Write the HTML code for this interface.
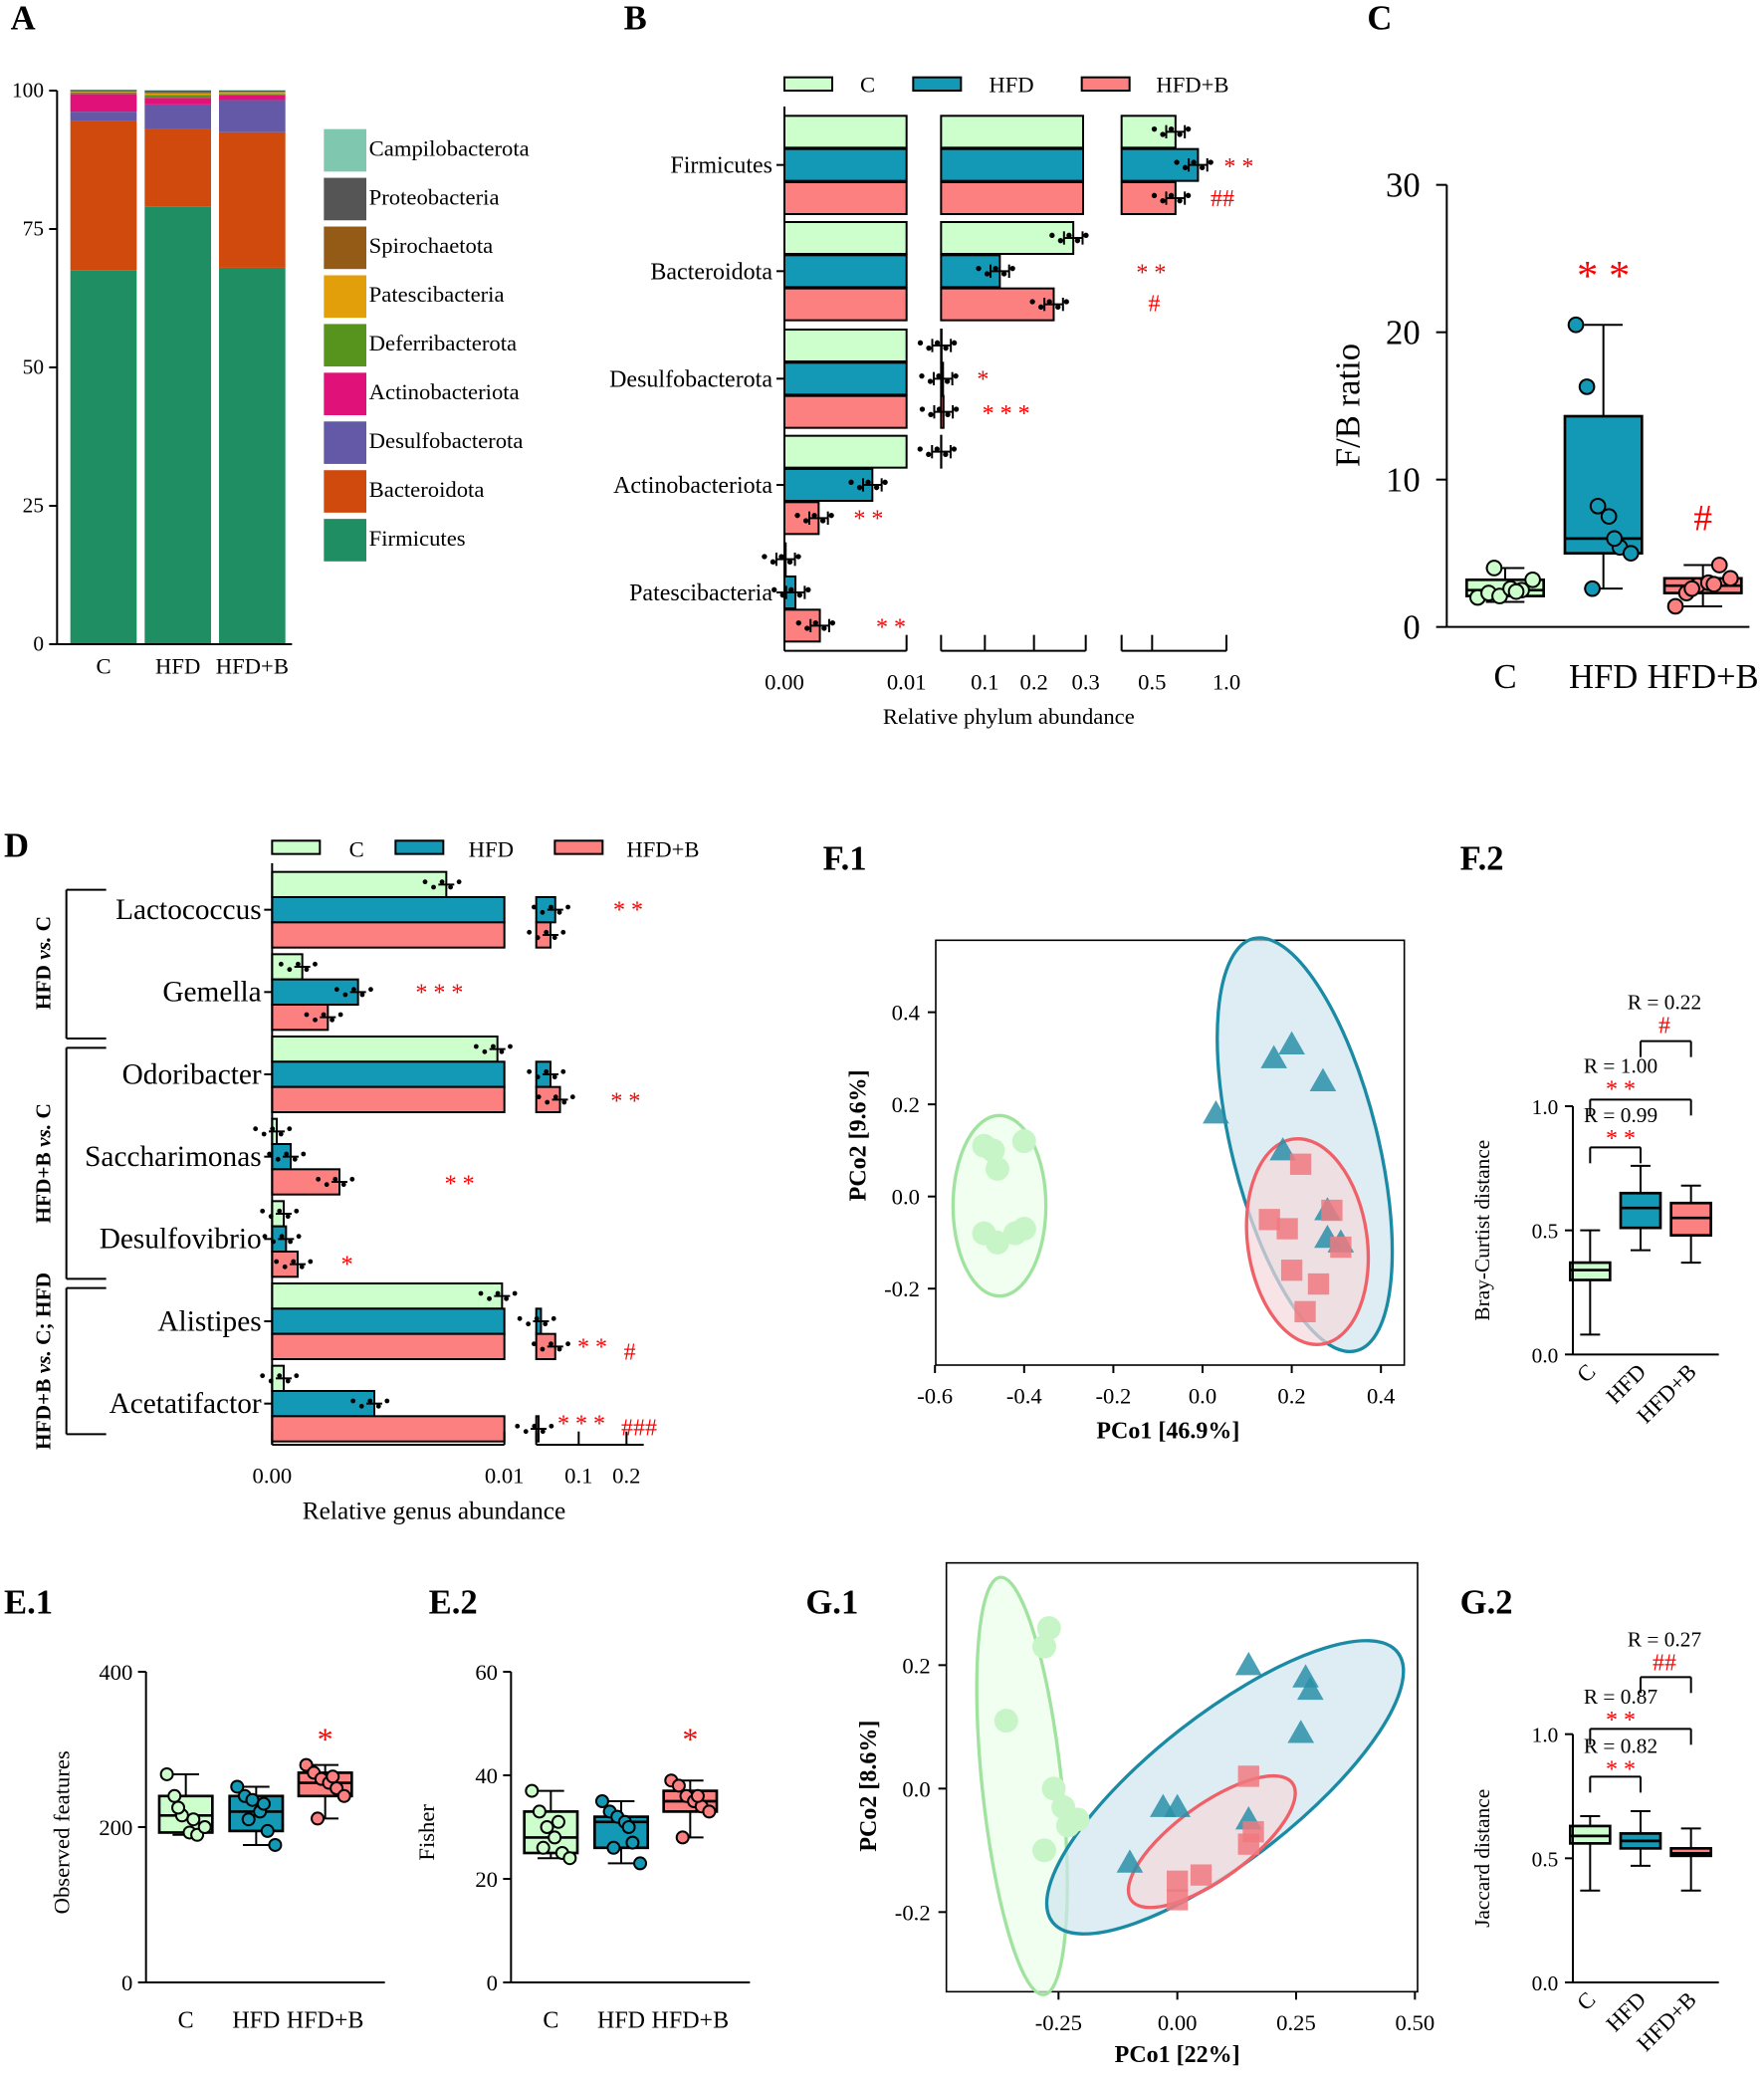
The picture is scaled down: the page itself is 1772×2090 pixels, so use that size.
<!DOCTYPE html>
<html><head><meta charset="utf-8"><style>
html,body{margin:0;padding:0;background:#fff}
svg{display:block;font-family:"Liberation Serif",serif}
</style></head><body>
<svg id="fig" xmlns="http://www.w3.org/2000/svg" width="1772" height="2090" viewBox="0 0 1329 1567"></svg>
<script>
// ---------- DATA ----------
const groups = ['C','HFD','HFD+B'];
// Panel A (stacked %, bottom to top)
const phyla = ['Firmicutes','Bacteroidota','Desulfobacterota','Actinobacteriota','Deferribacterota','Patescibacteria','Spirochaetota','Proteobacteria','Campilobacterota'];
const firmA = [67.5, 79, 68];
const bactA = [27, 14, 24.5];
const desulA = [1.7, 4.5, 5.8];
const actinA = [3.2, 1.2, 0.8];
const deferA = [0.3, 0.5, 0.3];
const patesA = [0.1, 0.3, 0.3];
const spiroA = [0.1, 0.2, 0.1];
const proteA = [0.2, 0.3, 0.2];
const campiA = [0.1, 0.1, 0.1];
const yTicksA = [0, 25, 50, 75, 100];
// Panel B (relative phylum abundance)
const phylaB = ['Firmicutes','Bacteroidota','Desulfobacterota','Actinobacteriota','Patescibacteria'];
const bC = [0.66, 0.28, 0.011, 0.0105, 0.0001];
const bHFD = [0.81, 0.13, 0.014, 0.0072, 0.0009];
const bHFDB = [0.66, 0.24, 0.015, 0.0028, 0.0029];
// Panel C F/B ratio boxplots [min,q1,med,q3,max]
const fbStats = [[1.7,2.1,2.5,3.2,4.0],[2.6,5.0,6.0,14.3,20.5],[1.4,2.3,2.8,3.3,4.2]];
const fbPtsC = [2.0,2.3,2.1,2.6,2.5,3.2,4.0,2.4];
const fbPtsHFD = [20.5,16.3,8.2,7.5,5.4,5.0,2.6,6.0];
const fbPtsHFDB = [1.4,2.3,2.8,3.0,4.2,3.3,2.6,2.9];
const fbTicks = [0,10,20,30];
// Panel D genera
const genera = ['Lactococcus','Gemella','Odoribacter','Saccharimonas','Desulfovibrio','Alistipes','Acetatifactor'];
const dC = [0.0075, 0.0013, 0.0097, 0.0002, 0.0005, 0.0099, 0.0005];
const dHFD = [0.05, 0.0037, 0.04, 0.0008, 0.0006, 0.02, 0.0044];
const dHFDB = [0.04, 0.0024, 0.06, 0.0029, 0.0011, 0.05, 0.015];
// Panel E
const e1Stats = [[190,193,215,240,268],[177,195,220,240,252],[211,240,257,270,280]];
const e1Pts = [[268,240,215,193,190,200,225,210],[252,240,235,220,195,177,210,230],[280,270,262,257,250,240,211,265]];
const e2Stats = [[24,25,28,33,37],[23,26,31,32,35],[28,33,35,37,39]];
const e2Pts = [[37,33,30,28,25,24,26,31],[35,33,32,31,27,23,26,30],[39,38,36,35,34,33,28,36]];
// Panel F.1 PCoA
const f1C = [[-0.49,0.11],[-0.47,0.10],[-0.40,0.12],[-0.46,0.06],[-0.49,-0.08],[-0.46,-0.10],[-0.42,-0.08],[-0.40,-0.07]];
const f1HFD = [[0.20,0.33],[0.16,0.30],[0.27,0.25],[0.03,0.18],[0.18,0.10],[0.28,-0.03],[0.28,-0.09],[0.31,-0.10]];
const f1HFDB = [[0.22,0.07],[0.15,-0.05],[0.19,-0.07],[0.29,-0.03],[0.31,-0.11],[0.20,-0.16],[0.26,-0.19],[0.23,-0.25]];
const f2Stats = [[0.08,0.30,0.34,0.37,0.50],[0.42,0.51,0.59,0.65,0.76],[0.37,0.48,0.55,0.61,0.68]];
// Panel G
const g1C = [[-0.27,0.26],[-0.28,0.23],[-0.36,0.11],[-0.26,0.0],[-0.24,-0.03],[-0.21,-0.05],[-0.23,-0.06],[-0.28,-0.10]];
const g1HFD = [[0.15,0.20],[0.27,0.18],[0.28,0.16],[0.26,0.09],[-0.03,-0.03],[0.0,-0.03],[0.15,-0.05],[-0.10,-0.12]];
const g1HFDB = [[0.15,0.02],[0.16,-0.07],[0.15,-0.09],[0.05,-0.14],[0.0,-0.15],[0.0,-0.18]];
const g2Stats = [[0.37,0.56,0.59,0.63,0.67],[0.47,0.54,0.57,0.60,0.69],[0.37,0.51,0.52,0.54,0.62]];

// ---------- HELPERS ----------
const NS='http://www.w3.org/2000/svg';
const svg=document.getElementById('fig');
const COL={C:'#ccffcc',HFD:'#1399b5',HFDB:'#fd8080'};
const FILLS=[COL.C,COL.HFD,COL.HFDB];
function mk(tag,attrs,name,parent){
  const e=document.createElementNS(NS,tag);
  for(const k in attrs) e.setAttribute(k,attrs[k]);
  
  
  (parent||svg).appendChild(e);
  return e;
}
function L(x1,y1,x2,y2,name,w,c){return mk('line',{x1,y1,x2,y2,stroke:c||'#000','stroke-width':w||1.5},name);}
function T(x,y,s,size,name,opt){
  opt=opt||{};
  const a={x,y,'font-size':size,fill:opt.fill||'#000','text-anchor':opt.anchor||'start'};
  if(opt.bold)a['font-weight']='bold';
  if(opt.rot!==undefined)a.transform='rotate('+opt.rot+' '+x+' '+y+')';
  if(opt.italic)a['font-style']='italic';
  const e=mk('text',a,name);e.textContent=s;return e;
}
function R(x,y,w,h,fill,name,sw){return mk('rect',{x,y,width:Math.max(w,0),height:h,fill,stroke:'#000','stroke-width':sw||1.5},name);}
const JIT=[-10,-6,-2,2,6,10,-4,4];

// ---------- PANEL LETTERS ----------
[['A',8,22],['B',470,22],['C',1030,22],['D',3,645],['F.1',620,655],['F.2',1100,655],['E.1',3,1215],['E.2',323,1215],['G.1',607,1215],['G.2',1100,1215]]
.forEach(p=>T(p[1],p[2],p[0],26,'panel-label-'+p[0].toLowerCase().replace('.','-'),{bold:true}));

// ---------- PANEL A ----------
(function(){
  const yA=v=>485-v*4.17;
  const stacks=[firmA,bactA,desulA,actinA,deferA,patesA,spiroA,proteA,campiA];
  const cols=['#1f8f63','#d04a0e','#6459a6','#e0127a','#56941e','#e39f0a','#935b16','#555555','#7fc7ae'];
  const xs=[53,109,165];
  groups.forEach((g,i)=>{
    let acc=0;
    stacks.forEach((s,j)=>{
      mk('rect',{x:xs[i],y:yA(acc+s[i]),width:50,height:s[i]*4.17,fill:cols[j]},'stack-'+phyla[j].toLowerCase()+'-'+g.toLowerCase());
      acc+=s[i];
    });
    T(xs[i]+25,507,g,17,'a-x-label-'+g.toLowerCase(),{anchor:'middle'});
  });
  L(43,68,43,485,'a-y-axis');L(43,485,220,485,'a-x-axis');
  yTicksA.forEach(t=>{L(37,yA(t),43,yA(t),'a-y-tick');T(33,yA(t)+5,String(t),16,'a-y-tick-label',{anchor:'end'});});
  const order=[8,7,6,5,4,3,2,1,0];
  order.forEach((j,k)=>{
    const y=97+k*36.7;
    mk('rect',{x:244,y:y,width:32,height:32,fill:cols[j]},'legend-swatch-'+phyla[j].toLowerCase());
    T(278,y+20,phyla[j],17,'legend-entry-'+phyla[j].toLowerCase());
  });
})();

// ---------- PANEL B ----------
(function(){
  const xs1=v=>591+Math.min(v,0.01)/0.01*92;
  const xs2=v=>709+(Math.min(v,0.3)-0.01)/0.29*107;
  const xs3=v=>845+(v-0.3)/0.7*79;
  const centers=[124,204,285,365,446];
  const series=[bC,bHFD,bHFDB];
  phylaB.forEach((p,i)=>{
    const c=centers[i];
    series.forEach((s,k)=>{
      const y=c-37+k*25, v=s[i];
      R(591,y,xs1(v)-591,24,FILLS[k],'bar-'+p.toLowerCase()+'-'+groups[k].toLowerCase());
      if(v>0.01)R(709,y,xs2(v)-709,24,FILLS[k],'bar-'+p.toLowerCase()+'-'+groups[k].toLowerCase()+'-seg2');
      if(v>0.3)R(845,y,xs3(v)-845,24,FILLS[k],'bar-'+p.toLowerCase()+'-'+groups[k].toLowerCase()+'-seg3');
      let xe=v>0.3?xs3(v):(v>0.01?xs2(v):xs1(v));
      const cy=y+12;
      L(xe-7,cy,xe+7,cy,'error-bar');L(xe-7,cy-5,xe-7,cy+5,'error-cap');L(xe+7,cy-5,xe+7,cy+5,'error-cap');
      JIT.slice(0,5).forEach((d,q)=>mk('circle',{cx:xe+d*1.6,cy:cy+(q%2?2:-2),r:2,fill:'#000'},'data-dot'));
    });
    L(585,c,591,c,'b-y-tick');
    T(582,c+6,p,18,'b-category-'+p.toLowerCase(),{anchor:'end'});
  });
  L(591,80,591,490,'b-y-axis');
  L(591,490,683,490,'b-x-axis-seg1');L(709,490,818,490,'b-x-axis-seg2');L(845,490,924,490,'b-x-axis-seg3');
  [[591,'0.00'],[683,'0.01'],[709,''],[742,'0.1'],[779,'0.2'],[818,'0.3'],[845,''],[868,'0.5'],[924,'1.0']].forEach(t=>{
    L(t[0],478,t[0],490,'b-x-tick');if(t[1])T(t[0],519,t[1],17,'b-x-tick-label',{anchor:'middle'});
  });
  T(760,545,'Relative phylum abundance',17,'b-x-axis-title',{anchor:'middle'});
  [[591,648,'C'],[688,745,'HFD'],[815,871,'HFD+B']].forEach((l,k)=>{R(l[0],58,36,10,FILLS[k],'b-legend-swatch-'+l[2].toLowerCase());T(l[1],69,l[2],17,'b-legend-entry-'+l[2].toLowerCase());});
  [[922,131,'* *'],[912,155,'##'],[856,211,'* *'],[865,234,'#'],[736,291,'*'],[740,317,'* * *'],[643,396,'* *'],[660,478,'* *']].forEach(s=>T(s[0],s[1],s[2],18,'significance-mark',{fill:'#f00'}));
})();

// ---------- BOX PLOT HELPER ----------
function boxplot(cx,w,st,ys,fill,name,pts,pr){
  L(cx,ys(st[0]),cx,ys(st[1]),name+'-whisker');L(cx,ys(st[3]),cx,ys(st[4]),name+'-whisker');
  L(cx-w/4,ys(st[0]),cx+w/4,ys(st[0]),name+'-cap');L(cx-w/4,ys(st[4]),cx+w/4,ys(st[4]),name+'-cap');
  R(cx-w/2,ys(st[3]),w,ys(st[1])-ys(st[3]),fill,name+'-box',2);
  L(cx-w/2,ys(st[2]),cx+w/2,ys(st[2]),name+'-median',2);
  if(pts)pts.forEach((v,i)=>mk('circle',{cx:cx+JIT[i]*w/28,cy:ys(v),r:pr||5,fill:fill,stroke:'#000','stroke-width':1.5},name+'-point'));
}

// ---------- PANEL C ----------
(function(){
  const ys=v=>472-v*11.1;
  const xs=[1134,1208,1283];
  const pts=[fbPtsC,fbPtsHFD,fbPtsHFDB];
  groups.forEach((g,i)=>{boxplot(xs[i],58,fbStats[i],ys,FILLS[i],'fb-box-'+g.toLowerCase(),pts[i],5.5);
    T(xs[i],518,g,26,'c-x-label-'+g.toLowerCase(),{anchor:'middle'});});
  L(1090,139,1090,472,'c-y-axis');L(1090,472,1318,472,'c-x-axis');
  fbTicks.forEach(t=>{L(1082,ys(t),1090,ys(t),'c-y-tick');T(1070,ys(t)+9,String(t),26,'c-y-tick-label',{anchor:'end'});});
  T(1024,305,'F/B ratio',26,'c-y-axis-title',{anchor:'middle',rot:-90});
  T(1208,218,'* *',32,'significance-mark',{fill:'#f00',anchor:'middle'});
  T(1283,399,'#',28,'significance-mark',{fill:'#f00',anchor:'middle'});
})();

// ---------- PANEL D ----------
(function(){
  const xs1=v=>205+Math.min(v,0.01)/0.01*175;
  const xs2=v=>404+(v-0.01)/0.19*68;
  const series=[dC,dHFD,dHFDB];
  genera.forEach((gname,i)=>{
    const c=685+i*62;
    series.forEach((s,k)=>{
      const y=c-28.5+k*19, v=s[i];
      R(205,y,xs1(v)-205,19,FILLS[k],'bar-'+gname.toLowerCase()+'-'+groups[k].toLowerCase());
      if(v>0.01)R(404,y,xs2(v)-404,19,FILLS[k],'bar-'+gname.toLowerCase()+'-'+groups[k].toLowerCase()+'-seg2');
      const xe=v>0.01?xs2(v):xs1(v), cy=y+9.5;
      L(xe-6,cy,xe+6,cy,'error-bar');
      JIT.slice(0,5).forEach((d,q)=>mk('circle',{cx:xe+d*1.6,cy:cy+(q%2?2:-2),r:1.8,fill:'#000'},'data-dot'));
    });
    L(199,c,205,c,'d-y-tick');
    T(197,c+7,gname,22,'d-category-'+gname.toLowerCase(),{anchor:'end'});
  });
  L(205,650,205,1088,'d-y-axis');L(205,1088,380,1088,'d-x-axis-seg1');L(404,1088,485,1088,'d-x-axis-seg2');
  [[205,'0.00'],[380,'0.01'],[404,''],[436,'0.1'],[472,'0.2']].forEach(t=>{L(t[0],1078,t[0],1088,'d-x-tick');if(t[1])T(t[0],1117,t[1],17,'d-x-tick-label',{anchor:'middle'});});
  T(327,1144,'Relative genus abundance',19,'d-x-axis-title',{anchor:'middle'});
  [[205,263,'C'],[298,353,'HFD'],[418,472,'HFD+B']].forEach((l,k)=>{R(l[0],633,36,10,FILLS[k],'d-legend-swatch-'+l[2].toLowerCase());T(l[1],645,l[2],17,'d-legend-entry-'+l[2].toLowerCase());});
  [[462,691,'* *'],[313,753,'* * *'],[460,835,'* *'],[335,897,'* *'],[257,958,'*'],[435,1020,'* *'],[470,1024,'#'],[420,1078,'* * *'],[468,1081,'###']].forEach(s=>T(s[0],s[1],s[2],18,'significance-mark',{fill:'#f00'}));
  [[670,782,725,['HFD ','vs.',' C']],[789,963,876,['HFD+B ','vs.',' C']],[970,1080,1025,['HFD+B ','vs.',' C; HFD']]].forEach(b=>{
    L(80,b[0],50,b[0],'bracket');L(50,b[0],50,b[1],'bracket');L(50,b[1],80,b[1],'bracket');
    const t=T(38,b[2],'',16,'d-bracket-label',{anchor:'middle',rot:-90,bold:true});
    b[3].forEach((s,q)=>{const ts=document.createElementNS(NS,'tspan');if(q===1)ts.setAttribute('font-style','italic');ts.textContent=s;t.appendChild(ts);});
  });
})();

// ---------- PANEL E ----------
function panelE(ax,top,bot,maxv,ticks,stats,pts,ylab,pref){
  const ys=v=>bot-(v/maxv)*(bot-top);
  const xs=[ax+30,ax+83,ax+135];
  groups.forEach((g,i)=>{boxplot(xs[i],40,stats[i],ys,FILLS[i],pref+'-box-'+g.toLowerCase(),pts[i],4.5);
    T(xs[i],1527,g,18,pref+'-x-label-'+g.toLowerCase(),{anchor:'middle'});});
  L(ax,top,ax,bot,pref+'-y-axis');L(ax,bot,ax+180,bot,pref+'-x-axis');
  ticks.forEach(t=>{L(ax-6,ys(t),ax,ys(t),pref+'-y-tick');T(ax-10,ys(t)+6,String(t),17,pref+'-y-tick-label',{anchor:'end'});});
  T(ax-58,1380,ylab,17,pref+'-y-axis-title',{anchor:'middle',rot:-90});
  T(xs[2],1318,'*',24,'significance-mark',{fill:'#f00',anchor:'middle'});
}
panelE(110,1259,1493,400,[0,200,400],e1Stats,e1Pts,'Observed features','e1');
panelE(385,1259,1493,60,[0,20,40,60],e2Stats,e2Pts,'Fisher','e2');

// ---------- PCoA PANELS ----------
function tri(cx,cy,s,name){return mk('polygon',{points:(cx)+','+(cy-s)+' '+(cx-s)+','+(cy+s*0.75)+' '+(cx+s)+','+(cy+s*0.75),fill:'#2a8fa8','fill-opacity':0.85},name);}
function pcoa(box,sx,sy,C,H,B,ell,xt,yt,xlab,ylab,pref){
  mk('rect',{x:box[0],y:box[1],width:box[2]-box[0],height:box[3]-box[1],fill:'none',stroke:'#000','stroke-width':1.2},pref+'-plot-frame');
  const cols=[['#eaffea','#9fe39f'],['#cfe6ee','#1a8aa5'],['#f5d8dc','#f06068']];
  ell.forEach((e,k)=>mk('ellipse',{cx:e[0],cy:e[1],rx:e[2],ry:e[3],transform:'rotate('+e[4]+' '+e[0]+' '+e[1]+')',fill:cols[k][0],'fill-opacity':0.7,stroke:cols[k][1],'stroke-width':2.5},pref+'-ellipse-'+groups[k].toLowerCase()));
  C.forEach(p=>mk('circle',{cx:sx(p[0]),cy:sy(p[1]),r:9,fill:'#c8f5c8'},pref+'-point-c'));
  H.forEach(p=>tri(sx(p[0]),sy(p[1]),10,pref+'-point-hfd'));
  B.forEach(p=>mk('rect',{x:sx(p[0])-8,y:sy(p[1])-8,width:16,height:16,fill:'#f07a80','fill-opacity':0.85},pref+'-point-hfdb'));
  xt.forEach(t=>{L(sx(t[0]),box[3],sx(t[0]),box[3]+6,pref+'-x-tick');T(sx(t[0]),box[3]+29,t[1],17,pref+'-x-tick-label',{anchor:'middle'});});
  yt.forEach(t=>{L(box[0]-6,sy(t[0]),box[0],sy(t[0]),pref+'-y-tick');T(box[0]-12,sy(t[0])+6,t[1],17,pref+'-y-tick-label',{anchor:'end'});});
  T(xlab[0],xlab[1],xlab[2],18,pref+'-x-axis-title',{anchor:'middle',bold:true});
  T(ylab[0],ylab[1],ylab[2],18,pref+'-y-axis-title',{anchor:'middle',bold:true,rot:-90});
}
pcoa([705,708,1058,1028],v=>906+v*336,v=>901-v*347,f1C,f1HFD,f1HFDB,
  [[753,908,35,68,0],[983,862,55,160,-14],[985,935,45,78,-8]],
  [[-0.6,'-0.6'],[-0.4,'-0.4'],[-0.2,'-0.2'],[0,'0.0'],[0.2,'0.2'],[0.4,'0.4']],
  [[0.4,'0.4'],[0.2,'0.2'],[0,'0.0'],[-0.2,'-0.2']],[880,1083,'PCo1 [46.9%]'],[652,855,'PCo2 [9.6%]'],'f1');
pcoa([713,1177,1068,1500],v=>887+v*358,v=>1347-v*465,g1C,g1HFD,g1HFDB,
  [[770,1345,30,158,-6],[923,1346,165,55,-38],[913,1387,75,28,-36]],
  [[-0.25,'-0.25'],[0,'0.00'],[0.25,'0.25'],[0.5,'0.50']],
  [[0.2,'0.2'],[0,'0.0'],[-0.2,'-0.2']],[887,1553,'PCo1 [22%]'],[660,1345,'PCo2 [8.6%]'],'g1');

// ---------- DISTANCE BOX PANELS ----------
function distPanel(bot,stats,ylab,pref,rs){
  const ys=v=>bot-v*187;
  const xs=[1198,1236,1274];
  groups.forEach((g,i)=>{boxplot(xs[i],30,stats[i],ys,FILLS[i],pref+'-box-'+g.toLowerCase());
    T(xs[i]+5,bot+14,g,17,pref+'-x-label-'+g.toLowerCase(),{anchor:'end',rot:-45});});
  L(1185,ys(1.0),1185,bot,pref+'-y-axis');L(1185,bot,1295,bot,pref+'-x-axis');
  [0,0.5,1.0].forEach(t=>{L(1179,ys(t),1185,ys(t),pref+'-y-tick');T(1174,ys(t)+6,t.toFixed(1),16,pref+'-y-tick-label',{anchor:'end'});});
  T(1122,ys(0.5),ylab,16,pref+'-y-axis-title',{anchor:'middle',rot:-90});
  rs.forEach(r=>{
    T(r[4],r[0],r[5],16,pref+'-r-value',{anchor:'middle'});
    T(r[4],r[0]+18,r[6],18,'significance-mark',{fill:'#f00',anchor:'middle'});
    L(r[2],r[1],r[3],r[1],pref+'-bracket');L(r[3],r[1],r[3],r[1]+12,pref+'-bracket');L(r[2],r[1],r[2],r[1]+12,pref+'-bracket');
  });
}
distPanel(1020,f2Stats,'Bray-Curtist distance','f2',[[760,784,1236,1274,1254,'R = 0.22','#'],[808,828,1198,1274,1221,'R = 1.00','* *'],[845,864,1198,1236,1221,'R = 0.99','* *']]);
distPanel(1493,g2Stats,'Jaccard distance','g2',[[1240,1263,1236,1274,1254,'R = 0.27','##'],[1283,1302,1198,1274,1221,'R = 0.87','* *'],[1320,1338,1198,1236,1221,'R = 0.82','* *']]);
</script>
</body></html>
